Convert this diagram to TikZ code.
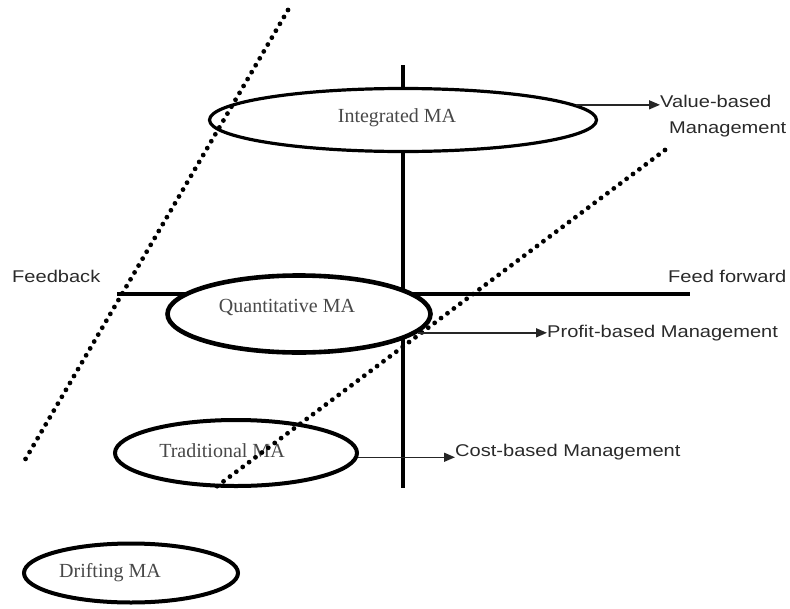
\documentclass[tikz,border=0pt]{standalone}
\usepackage{fontspec}
\setmainfont{Liberation Serif}
\setsansfont[FakeStretch=1.18]{Liberation Sans}
\usetikzlibrary{shapes.geometric,arrows.meta}
\definecolor{serifgray}{HTML}{484848}
\definecolor{sansgray}{HTML}{2A2A2A}
\tikzset{
  ell/.style={ellipse, draw=black, fill=white, inner sep=0pt},
  axis/.style={line width=4.4pt, line cap=butt},
  dots/.style={line width=4.8pt, line cap=round, dash pattern=on 0pt off 8pt},
  arr/.style={line width=1.5pt, draw=black!85, -{Triangle[length=11pt,width=9pt]}},
  stxt/.style={inner sep=0pt, anchor=west, font=\sffamily\fontsize{17}{20}\selectfont, text=sansgray},
  mtxt/.style={inner sep=0pt, font=\rmfamily\fontsize{20}{24}\selectfont, text=serifgray},
}
\begin{document}
\begin{tikzpicture}[x=1pt,y=-1pt]
\useasboundingbox (0,0) rectangle (790,608);
% axes
\coordinate (vtop) at (403,65);
\coordinate (vbot) at (403,488);
\coordinate (hl) at (117,294);
\coordinate (hr) at (690,294);
\draw[axis] (vtop) -- (vbot);
\draw[axis] (hl) -- (hr);
% ellipses
\node[ell, line width=3.2pt, minimum width=387pt, minimum height=63pt] (int) at (403,120) {};
\node[ell, line width=4.6pt, minimum width=263pt, minimum height=77pt] (qua) at (299,314) {};
\node[ell, line width=4pt, minimum width=242pt, minimum height=66pt] (tra) at (236,453) {};
\node[ell, line width=4pt, minimum width=214pt, minimum height=59pt] (dri) at (131,573) {};
% ellipse labels
\node[mtxt] (tint) at (397,118) {Integrated MA};
\node[mtxt] (tqua) at (287,307) {Quantitative MA};
\node[mtxt] (ttra) at (222,451) {Traditional MA};
\node[mtxt] (tdri) at (110,573) {Drifting MA};
% dotted lines
\coordinate (d1a) at (288,10);
\coordinate (d1b) at (22,465);
\coordinate (d2a) at (665,150);
\coordinate (d2b) at (212,490);
\draw[dots] (d1a) -- (d1b);
\draw[dots] (d2a) -- (d2b);
% side labels
\node[stxt] (fb) at (12,276) {Feedback};
\node[stxt] (ff) at (668,276) {Feed forward};
\node[stxt] (vb) at (660,101) {Value-based};
\node[stxt] (vm) at (669,129) {Management};
\node[stxt] (pb) at (547,333) {Profit-based Management};
\node[stxt] (cb) at (455,452) {Cost-based Management};
% arrows
\coordinate (a1) at (int.5.4);
\coordinate (a2) at (qua.-9.1);
\coordinate (a3) at (tra.-2.8);
\draw[arr] (a1) -- (a1 -| vb.west);
\draw[arr] (a2) -- (a2 -| pb.west);
\draw[arr] (a3) -- (a3 -| cb.west);
\end{tikzpicture}
\end{document}
